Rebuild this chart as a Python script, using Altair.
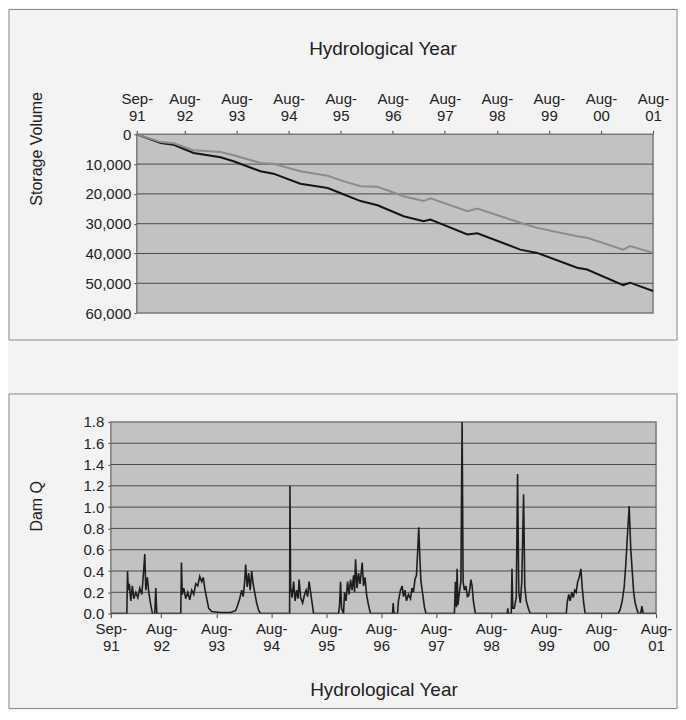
import json
import altair as alt
import pandas as pd

# ---------------- data ----------------
tick_months = [0, 11, 23, 35, 47, 59, 71, 83, 95, 107, 119]
tick_mon = ["Sep-", "Aug-", "Aug-", "Aug-", "Aug-", "Aug-", "Aug-", "Aug-", "Aug-", "Aug-", "Aug-"]
tick_year = ["91", "92", "93", "94", "95", "96", "97", "98", "99", "00", "01"]

storage_ticks = [0, 10000, 20000, 30000, 40000, 50000, 60000]
q_ticks = [0, 0.2, 0.4, 0.6, 0.8, 1.0, 1.2, 1.4, 1.6, 1.8]

storage_month = [0, 5.5, 8.5, 13.1, 19.3, 22.3, 28.5, 31.5, 37.7, 44.0, 47.6, 51.6, 55.5,
                 61.5, 66.1, 67.7, 76.2, 78.5, 88.4, 92.3, 101.5, 103.8, 112.1, 113.7, 119]
storage_dark = [0, 2900, 3500, 6250, 7700, 9050, 12400, 13200, 16600, 18000, 20100, 22400, 23800,
                27500, 29200, 28600, 33600, 33200, 38700, 39800, 44800, 45400, 50600, 49800, 52600]
storage_gray = [0, 2600, 3000, 5360, 5900, 7000, 9600, 9900, 12400, 13900, 15700, 17400, 17600,
                20800, 22400, 21500, 25800, 24900, 29700, 31400, 34200, 34700, 38700, 37500, 39800]

q_month = [0.0, 3.49, 3.64, 3.81, 4.03, 4.36, 4.69, 5.01, 5.45, 5.89, 6.32, 6.76, 7.09, 7.41, 7.63, 7.96, 8.28, 8.72, 9.09, 9.59, 9.81, 10.03,
           15.26, 15.41, 15.59, 15.91, 16.35, 16.79, 17.22, 17.66, 18.09, 18.53, 18.97, 19.40, 19.84, 20.17, 20.49, 20.93, 21.36, 22.02, 23.98, 26.16, 27.25,
           27.69, 28.12, 28.56, 28.89, 29.21, 29.43, 29.76, 30.08, 30.41, 30.74, 31.06, 31.39, 31.83, 32.26, 32.70,
           39.02, 39.09, 39.24, 39.57, 39.89, 40.22, 40.55, 40.87, 41.09, 41.42, 41.86, 42.29, 42.62, 42.95, 43.27, 43.60, 43.93, 44.25,
           49.70, 49.92, 50.14, 50.36, 50.79, 51.01, 51.34, 51.67, 52.00, 52.32, 52.65, 52.98, 53.20, 53.41, 53.74, 54.07, 54.39, 54.87, 55.15, 55.48, 55.81, 56.24, 56.68,
           61.48, 61.63, 61.80, 62.57, 62.78, 63.22, 63.59, 63.87, 64.20, 64.53, 64.96, 65.40, 65.73, 66.05, 66.38, 66.71, 66.99, 67.21, 67.47, 67.69, 68.02, 68.45, 68.78,
           74.99, 75.21, 75.43, 75.58, 75.75, 76.08, 76.41, 76.67, 76.89, 77.17, 77.50, 77.82, 78.11, 78.37, 78.59, 78.85, 79.13, 79.57,
           86.53, 86.64, 86.75, 87.40, 87.56, 87.73, 88.06, 88.49, 88.78, 89.04, 89.37, 89.70, 90.09, 90.35, 90.68, 91.12, 91.55,
           99.40, 99.61, 99.94, 100.27, 100.59, 100.92, 101.25, 101.57, 101.90, 102.23, 102.60, 102.88, 103.21, 103.54,
           110.74, 111.18, 111.62, 112.05, 112.38, 112.71, 113.14, 113.47, 113.80, 114.12, 114.45, 114.89, 115.21, 115.65, 115.91, 116.19, 119.0]
q_value = [0, 0, 0.40, 0.22, 0.28, 0.12, 0.26, 0.14, 0.20, 0.15, 0.24, 0.18, 0.36, 0.56, 0.22, 0.34, 0.20, 0.08, 0.0, 0.0, 0.24, 0.0,
           0, 0.48, 0.18, 0.24, 0.14, 0.20, 0.13, 0.22, 0.18, 0.28, 0.26, 0.35, 0.30, 0.34, 0.24, 0.14, 0.05, 0.02, 0.01, 0.01, 0.03,
           0.08, 0.14, 0.22, 0.16, 0.30, 0.46, 0.25, 0.38, 0.22, 0.40, 0.28, 0.20, 0.10, 0.03, 0.0,
           0, 1.20, 0.25, 0.15, 0.30, 0.12, 0.22, 0.14, 0.32, 0.15, 0.10, 0.18, 0.22, 0.16, 0.30, 0.20, 0.10, 0.0,
           0, 0.08, 0.30, 0.05, 0.0, 0.20, 0.12, 0.30, 0.18, 0.32, 0.22, 0.36, 0.20, 0.51, 0.24, 0.38, 0.28, 0.48, 0.26, 0.34, 0.18, 0.08, 0.0,
           0, 0.10, 0.0, 0.0, 0.12, 0.22, 0.26, 0.16, 0.22, 0.12, 0.18, 0.14, 0.24, 0.20, 0.32, 0.36, 0.60, 0.81, 0.50, 0.30, 0.20, 0.06, 0.0,
           0, 0.30, 0.06, 0.42, 0.08, 0.20, 0.30, 1.82, 0.30, 0.22, 0.26, 0.16, 0.17, 0.24, 0.32, 0.26, 0.12, 0.0,
           0, 0.05, 0, 0, 0.42, 0.05, 0.05, 0.15, 1.31, 0.20, 0.10, 0.30, 1.12, 0.25, 0.12, 0.05, 0.0,
           0, 0.10, 0.18, 0.12, 0.20, 0.15, 0.22, 0.20, 0.30, 0.34, 0.42, 0.25, 0.10, 0.0,
           0, 0.04, 0.12, 0.25, 0.45, 0.70, 1.01, 0.62, 0.40, 0.20, 0.10, 0.03, 0.0, 0.0, 0.07, 0.0, 0]

series_names = ["Series A", "Series B"]
series_colors = ["#151515", "#8c8c8c"]

# ---------------- style ----------------
FONT = "Liberation Sans"
PLOT_FILL = "#c2c2c2"
PLOT_STROKE = "#7a7a7a"
GRID = "#4a4a4a"
BOX = "#8a8a8a"
XTITLE = 19
YTITLE = 16
LABEL = 15
label_expr = ("[" + json.dumps(tick_mon) + "[indexof(" + json.dumps(tick_months) + ", datum.value)], "
              + json.dumps(tick_year) + "[indexof(" + json.dumps(tick_months) + ", datum.value)]]")

one = pd.DataFrame({"k": [0]})

# ---------------- top chart (origin shared with bottom plot's left edge) ----------------
SHIFT = 26            # top plot starts 26px right of the bottom plot
TW, TH = 543, 179     # 26 + 517

top_df = pd.DataFrame({
    "month": storage_month * 2,
    "value": storage_dark + storage_gray,
    "series": [series_names[0]] * len(storage_month) + [series_names[1]] * len(storage_month),
})
xs_top = alt.Scale(domain=[0, 119], range=[SHIFT, TW], nice=False, zero=False)
ys_top = alt.Scale(domain=[0, 60000], reverse=True, nice=False)
x_axis_top = alt.Axis(orient="top", values=tick_months, labelExpr=label_expr,
                      labelFlush=False, labelOverlap=False,
                      title="Hydrological Year", titleY=-80, titleX=272,
                      titleBaseline="alphabetic", titleFontSize=XTITLE,
                      grid=False, tickSize=4, labelPadding=24, labelLineHeight=17,
                      domain=False)
y_axis_top = alt.Axis(values=storage_ticks, format=",d", offset=-SHIFT,
                      labelFlush=False, labelOverlap=False,
                      title="Storage Volume", titleX=-92, titleY=14, titleFontSize=YTITLE,
                      grid=False, tickSize=3, labelPadding=3, domain=False)

top_box = alt.Chart(one).mark_rect(fillOpacity=0, stroke=BOX, strokeWidth=1).encode(
    x=alt.value(-102), x2=alt.value(567), y=alt.value(-125), y2=alt.value(206))
top_bg = alt.Chart(one).mark_rect(fill=PLOT_FILL, stroke=PLOT_STROKE, strokeWidth=1.5).encode(
    x=alt.value(SHIFT), x2=alt.value(TW), y=alt.value(0), y2=alt.value(TH))
top_grid = alt.Chart(pd.DataFrame({"value": storage_ticks[1:-1]})).mark_rule(color=GRID, strokeWidth=1).encode(
    y=alt.Y("value:Q", scale=ys_top, axis=y_axis_top), x=alt.value(SHIFT), x2=alt.value(TW))
top_lines = alt.Chart(top_df).mark_line(strokeWidth=2).encode(
    x=alt.X("month:Q", scale=xs_top, axis=x_axis_top),
    y=alt.Y("value:Q", scale=ys_top, axis=y_axis_top),
    color=alt.Color("series:N", scale=alt.Scale(domain=series_names, range=series_colors), legend=None),
    order=alt.Order("month:Q"),
)
top = alt.layer(top_box, top_bg, top_grid, top_lines).properties(width=TW, height=TH)

# ---------------- bottom chart ----------------
BW, BH = 546, 192
q_df = pd.DataFrame({"month": q_month, "q": q_value})
xs_bot = alt.Scale(domain=[0, 119], nice=False, zero=False)
ys_bot = alt.Scale(domain=[0, 1.8], nice=False)
x_axis_bot = alt.Axis(orient="bottom", values=tick_months, labelExpr=label_expr,
                      labelFlush=False, labelOverlap=False,
                      title="Hydrological Year", titleY=82, titleBaseline="alphabetic",
                      titleFontSize=XTITLE,
                      grid=False, tickSize=4, labelPadding=4, labelLineHeight=17,
                      domain=False)
y_axis_bot = alt.Axis(values=q_ticks, format=".1f",
                      labelFlush=False, labelOverlap=False,
                      title="Dam Q", titleX=-66, titleY=84, titleFontSize=YTITLE,
                      grid=False, tickSize=3, labelPadding=4, domain=False)

bot_box = alt.Chart(one).mark_rect(fillOpacity=0, stroke=BOX, strokeWidth=1).encode(
    x=alt.value(-102), x2=alt.value(567), y=alt.value(-28), y2=alt.value(287))
bot_bg = alt.Chart(one).mark_rect(fill=PLOT_FILL, stroke=PLOT_STROKE, strokeWidth=1.5).encode(
    x=alt.value(0), x2=alt.value(BW), y=alt.value(0), y2=alt.value(BH))
bot_grid = alt.Chart(pd.DataFrame({"q": q_ticks[1:-1]})).mark_rule(color=GRID, strokeWidth=1).encode(
    y=alt.Y("q:Q", scale=ys_bot, axis=y_axis_bot), x=alt.value(0), x2=alt.value(BW))
bot_line = alt.Chart(q_df).mark_line(strokeWidth=1.6, color="#1e1e1e", clip=True).encode(
    x=alt.X("month:Q", scale=xs_bot, axis=x_axis_bot),
    y=alt.Y("q:Q", scale=ys_bot, axis=y_axis_bot),
    order=alt.Order("month:Q"),
)
bottom = alt.layer(bot_box, bot_bg, bot_grid, bot_line).properties(width=BW, height=BH)

chart = alt.vconcat(top, bottom, spacing=52).properties(
    padding=0, background="#f3f3f3"
).configure_view(
    strokeWidth=0, fillOpacity=0
).configure_axis(
    labelFont=FONT, titleFont=FONT, labelFontSize=LABEL,
    labelColor="#222222", titleColor="#222222", titleFontWeight="normal",
    tickColor="#444444",
)

chart.save("out.html", embed_options={"renderer": "svg", "actions": False})
